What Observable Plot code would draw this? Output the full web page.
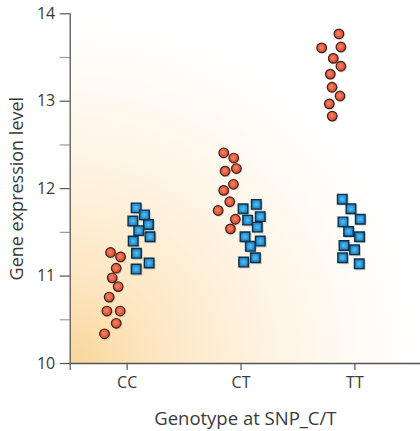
<!DOCTYPE html>
<html>
<head>
<meta charset="utf-8">
<script src="https://cdn.jsdelivr.net/npm/d3@7"></script>
<script src="https://cdn.jsdelivr.net/npm/@observablehq/plot@0.6"></script>
<style>
  html, body { margin: 0; padding: 0; background: #fff; }
  #chart svg { display: block; }
</style>
</head>
<body>
<svg width="0" height="0" style="position:absolute">
  <defs>
    <radialGradient id="bgGrad" cx="0" cy="1" r="1.0" fx="0" fy="1">
      <stop offset="0" stop-color="#f9d69a"/>
      <stop offset="0.25" stop-color="#fde7c3"/>
      <stop offset="0.6" stop-color="#fef5e6"/>
      <stop offset="0.9" stop-color="#fffdf9"/>
      <stop offset="1" stop-color="#ffffff"/>
    </radialGradient>
    <radialGradient id="redGrad" cx="0.45" cy="0.45" r="0.6">
      <stop offset="0" stop-color="#f7876a"/>
      <stop offset="0.6" stop-color="#e45a3e"/>
      <stop offset="1" stop-color="#c9412b"/>
    </radialGradient>
    <radialGradient id="blueGrad" cx="0.5" cy="0.5" r="0.65">
      <stop offset="0" stop-color="#5cc0f0"/>
      <stop offset="0.6" stop-color="#2590d0"/>
      <stop offset="1" stop-color="#136fae"/>
    </radialGradient>
  </defs>
</svg>
<div id="chart"></div>
<script>
// Categories (genotypes) and y ticks
const genotypes = ["CC", "CT", "TT"];
const majorTicks = [10, 11, 12, 13, 14];
const minorTicks = [10.5, 11.5, 12.5, 13.5];

// Circle series: expression values per genotype
const circleCC = [11.27, 11.22, 11.09, 10.98, 10.88, 10.76, 10.60, 10.60, 10.46, 10.34];
const circleCT = [12.41, 12.35, 12.20, 12.23, 12.05, 11.98, 11.85, 11.75, 11.65, 11.54];
const circleTT = [13.77, 13.61, 13.62, 13.49, 13.40, 13.31, 13.16, 13.06, 12.97, 12.83];
// Circle series: horizontal jitter (fraction of category step)
const circleJitterCC = [-0.146, -0.058, -0.096, -0.131, -0.079, -0.158, -0.178, -0.061, -0.096, -0.199];
const circleJitterCT = [-0.152, -0.064, -0.140, -0.041, -0.067, -0.152, -0.099, -0.201, -0.050, -0.093];
const circleJitterTT = [-0.140, -0.292, -0.123, -0.190, -0.123, -0.216, -0.201, -0.131, -0.225, -0.199];

// Square series: expression values per genotype
const squareCC = [11.78, 11.70, 11.63, 11.59, 11.52, 11.45, 11.40, 11.26, 11.15, 11.08];
const squareCT = [11.82, 11.77, 11.68, 11.64, 11.56, 11.45, 11.40, 11.34, 11.21, 11.16];
const squareTT = [11.88, 11.77, 11.62, 11.65, 11.51, 11.45, 11.35, 11.30, 11.21, 11.14];
// Square series: horizontal jitter (fraction of category step)
const squareJitterCC = [0.079, 0.152, 0.050, 0.187, 0.102, 0.201, 0.053, 0.082, 0.193, 0.079];
const squareJitterCT = [0.134, 0.018, 0.169, 0.058, 0.143, 0.035, 0.169, 0.082, 0.126, 0.023];
const squareJitterTT = [-0.111, -0.035, -0.105, 0.047, -0.055, 0.041, -0.096, -0.003, -0.108, 0.038];

function rows(values, jitter, gi) {
  return values.map((v, i) => ({genotype: genotypes[gi], pos: gi + jitter[i], value: v}));
}
const circles = [
  ...rows(circleCC, circleJitterCC, 0),
  ...rows(circleCT, circleJitterCT, 1),
  ...rows(circleTT, circleJitterTT, 2)
];
const squares = [
  ...rows(squareCC, squareJitterCC, 0),
  ...rows(squareCT, squareJitterCT, 1),
  ...rows(squareTT, squareJitterTT, 2)
];

const textColor = "#3a3a3a";
const chart = Plot.plot({
  width: 420,
  height: 431,
  marginTop: 13.3,
  marginBottom: 68,
  marginLeft: 69.7,
  marginRight: 0,
  style: {fontFamily: "'Open Sans', sans-serif", fontSize: "15px", color: textColor, background: "transparent"},
  x: {type: "linear", domain: [-0.5, 2.576]},
  y: {domain: [10, 14]},
  marks: [
    Plot.frame({fill: "url(#bgGrad)", stroke: null}),
    // minor y ticks
    Plot.axisY(minorTicks, {tickSize: 10, tickFormat: () => "", stroke: "#9a9a9a", label: null, strokeWidth: 1.2}),
    // major y ticks (labels drawn below)
    Plot.axisY(majorTicks, {tickSize: 10, tickFormat: () => "", stroke: "#555", label: null, strokeWidth: 1.2}),
    Plot.text(majorTicks, {y: d => d, frameAnchor: "left", textAnchor: "end", dx: -15, fontSize: 16, fill: textColor}),
    // x ticks (including the left edge)
    Plot.axisX([-0.5, 0, 1, 2], {tickSize: 7, tickFormat: () => "", stroke: "#555", label: null, strokeWidth: 1.2}),
    Plot.text(genotypes, {x: (d, i) => i, frameAnchor: "bottom", dy: 24, fontSize: 16, fill: textColor}),
    Plot.ruleX([-0.5], {stroke: "#555", strokeWidth: 1.3}),
    Plot.ruleY([10], {stroke: "#555", strokeWidth: 1.3}),
    Plot.text(["Gene expression level"], {frameAnchor: "left", textAnchor: "middle", rotate: -90, dx: -53, fontSize: 18, fill: textColor}),
    Plot.text(["Genotype at SNP_C/T"], {frameAnchor: "bottom", textAnchor: "middle", dy: 61, fontSize: 18.5, fill: textColor}),
    // shadows
    Plot.dot(squares, {x: "pos", y: "value", symbol: "square", r: 5.8, fill: "#000", fillOpacity: 0.18, dx: 1.3, dy: 1.3, stroke: null}),
    Plot.dot(circles, {x: "pos", y: "value", r: 5.2, fill: "#000", fillOpacity: 0.12, dx: 1, dy: 1, stroke: null}),
    // data
    Plot.dot(circles, {x: "pos", y: "value", r: 4.8, fill: "url(#redGrad)", stroke: "#3d2019", strokeWidth: 1.2}),
    Plot.dot(squares, {x: "pos", y: "value", symbol: "square", r: 5.4, fill: "url(#blueGrad)", stroke: "#0e2f48", strokeWidth: 1.4})
  ]
});
document.getElementById("chart").appendChild(chart);
</script>
</body>
</html>
